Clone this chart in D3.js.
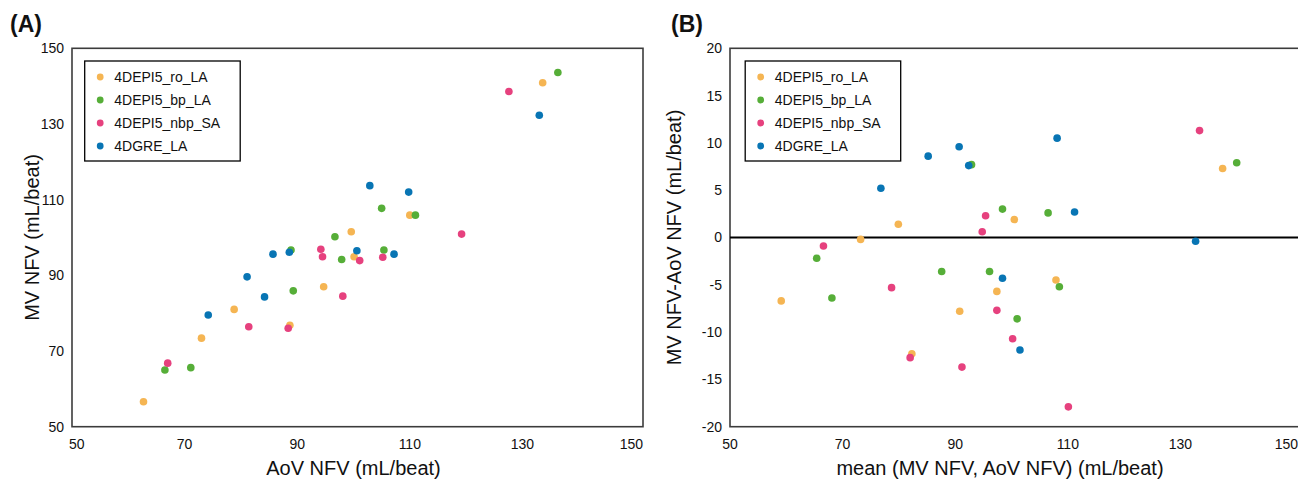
<!DOCTYPE html>
<html>
<head>
<meta charset="utf-8">
<script src="https://cdn.jsdelivr.net/npm/d3@7"></script>
<style>
  html, body { margin: 0; padding: 0; background: #fff; }
  svg { display: block; font-family: "Liberation Sans", Arial, Helvetica, sans-serif; }
</style>
</head>
<body>
<svg id="chart" width="1298" height="481"></svg>
<script>
'use strict';

// series names and colours
var seriesNames = ['4DEPI5_ro_LA', '4DEPI5_bp_LA', '4DEPI5_nbp_SA', '4DGRE_LA'];
var seriesColors = ['#F5B553', '#56AE38', '#E6417E', '#0875B4'];

// (A) AoV NFV vs MV NFV, mL/beat
var roAoV  = [133.6, 110.0, 99.6, 100.1, 94.7, 78.8, 88.7, 73.0, 62.7];
var roMV   = [140.9, 105.9, 101.5, 94.9, 87.0, 81.0, 76.8, 73.4, 56.6];
var bpAoV  = [136.3, 105.0, 111.0, 96.7, 88.9, 105.4, 97.9, 89.3, 71.1, 66.5];
var bpMV   = [143.6, 107.7, 105.9, 100.2, 96.7, 96.7, 94.2, 85.9, 65.6, 65.0];
var nbpAoV = [127.6, 119.2, 94.2, 94.5, 101.1, 105.2, 98.1, 81.4, 88.4, 67.0];
var nbpMV  = [138.6, 100.9, 96.9, 94.9, 93.9, 94.8, 84.5, 76.4, 76.0, 66.8];
var greAoV = [133.0, 102.9, 109.8, 100.6, 107.2, 85.7, 88.6, 81.1, 84.2, 74.2];
var greMV  = [132.3, 113.7, 112.0, 96.5, 95.6, 95.6, 96.1, 89.6, 84.3, 79.5];

// (B) mean vs difference, mL/beat
var roMean  = [59.1, 73.2, 79.9, 82.3, 90.8, 97.4, 100.5, 107.9, 137.5];
var roDiff  = [-6.7, -0.2, 1.4, -12.3, -7.8, -5.7, 1.9, -4.5, 7.3];
var bpMean  = [65.4, 68.1, 87.6, 92.9, 96.1, 98.4, 101.0, 106.5, 108.5, 140.0];
var bpDiff  = [-2.2, -6.4, -3.6, 7.7, -3.6, 3.0, -8.6, 2.6, -5.2, 7.9];
var nbpMean = [66.6, 78.7, 82.0, 91.2, 94.8, 95.4, 97.4, 100.2, 110.1, 133.4];
var nbpDiff = [-0.9, -5.3, -12.7, -13.7, 0.6, 2.3, -7.7, -10.7, -17.9, 11.3];
var greMean = [76.8, 85.2, 90.7, 92.4, 98.4, 101.5, 108.1, 111.2, 132.7];
var greDiff = [5.2, 8.6, 9.6, 7.6, -4.3, -11.9, 10.5, 2.7, -0.4];

// ticks
var xTicks = [50, 70, 90, 110, 130, 150];
var yTicksA = [50, 70, 90, 110, 130, 150];
var yTicksB = [-20, -15, -10, -5, 0, 5, 10, 15, 20];

var W = 1298;
var plotTop = 48.3, plotBottom = 426.7;
var svg = d3.select('#chart');

function zip(xs, ys) {
  return xs.map(function(v, i) { return [v, ys[i]]; });
}

var panels = [
  {
    tag: '(A)', tagX: 10,
    frame: [72, 643], xRange: [72, 635], labelMin: 69,
    yDomain: [50, 150], yTicks: yTicksA,
    xTitle: 'AoV NFV (mL/beat)', xTitleX: 353.5,
    yTitle: 'MV NFV (mL/beat)', yTitleX: 39,
    legendX: 84.7,
    sets: [zip(roAoV, roMV), zip(bpAoV, bpMV), zip(nbpAoV, nbpMV), zip(greAoV, greMV)],
    zeroLine: false
  },
  {
    tag: '(B)', tagX: 671,
    frame: [730, 1301], xRange: [730, 1293], labelMin: 721,
    yDomain: [-20, 20], yTicks: yTicksB,
    xTitle: 'mean (MV NFV, AoV NFV) (mL/beat)', xTitleX: 1000,
    yTitle: 'MV NFV-AoV NFV (mL/beat)', yTitleX: 681,
    legendX: 745.2,
    sets: [zip(roMean, roDiff), zip(bpMean, bpDiff), zip(nbpMean, nbpDiff), zip(greMean, greDiff)],
    zeroLine: true
  }
];

panels.forEach(function(p) {
  var x = d3.scaleLinear().domain([50, 150]).range(p.xRange);
  var y = d3.scaleLinear().domain(p.yDomain).range([plotBottom, plotTop]);
  var g = svg.append('g');

  // panel tag
  g.append('text')
    .attr('x', p.tagX).attr('y', 32)
    .attr('font-size', 23).attr('font-weight', 'bold').attr('fill', '#111')
    .text(p.tag);

  // frame
  g.append('rect')
    .attr('x', p.frame[0]).attr('y', plotTop)
    .attr('width', p.frame[1] - p.frame[0]).attr('height', plotBottom - plotTop)
    .attr('fill', 'none').attr('stroke', '#3c3c3c').attr('stroke-width', 1.6);

  if (p.zeroLine) {
    g.append('line')
      .attr('x1', p.frame[0]).attr('x2', p.frame[1])
      .attr('y1', y(0)).attr('y2', y(0))
      .attr('stroke', '#000').attr('stroke-width', 2);
  }

  // y tick labels
  g.selectAll('.ytl').data(p.yTicks).enter().append('text')
    .attr('class', 'ytl')
    .attr('x', p.frame[0] - 8).attr('y', function(d) { return y(d); })
    .attr('dy', '0.35em').attr('text-anchor', 'end')
    .attr('font-size', 14).attr('fill', '#111')
    .text(function(d) { return d; });

  // x tick labels, kept inside the panel edges
  var maxRight = Math.min(p.frame[1], W);
  g.selectAll('.xtl').data(xTicks).enter().append('text')
    .attr('class', 'xtl')
    .attr('y', 449).attr('text-anchor', 'middle')
    .attr('font-size', 14).attr('fill', '#111')
    .text(function(d) { return d; })
    .attr('x', function(d) {
      var half = this.getComputedTextLength() / 2;
      var cx = x(d);
      cx = Math.max(cx, p.labelMin + half);
      cx = Math.min(cx, maxRight - half);
      return cx;
    });

  // axis titles
  g.append('text')
    .attr('x', p.xTitleX).attr('y', 475)
    .attr('text-anchor', 'middle').attr('font-size', 20).attr('fill', '#111')
    .text(p.xTitle);

  g.append('text')
    .attr('transform', 'translate(' + p.yTitleX + ',' + ((plotTop + plotBottom) / 2) + ') rotate(-90)')
    .attr('text-anchor', 'middle').attr('font-size', 20).attr('fill', '#111')
    .text(p.yTitle);

  // points, drawn series by series
  p.sets.forEach(function(pts, si) {
    g.append('g').selectAll('circle').data(pts).enter().append('circle')
      .attr('cx', function(d) { return x(d[0]); })
      .attr('cy', function(d) { return y(d[1]); })
      .attr('r', 3.8)
      .attr('fill', seriesColors[si]);
  });

  // legend
  var lg = g.append('g').attr('transform', 'translate(' + p.legendX + ',61)');
  lg.append('rect')
    .attr('width', 155.5).attr('height', 100)
    .attr('fill', '#fff').attr('stroke', '#000').attr('stroke-width', 1.3);
  var rows = lg.selectAll('.row').data(seriesNames).enter().append('g')
    .attr('class', 'row')
    .attr('transform', function(d, i) { return 'translate(0,' + (16 + i * 23) + ')'; });
  rows.append('circle')
    .attr('cx', 15.5).attr('r', 3.4)
    .attr('fill', function(d, i) { return seriesColors[i]; });
  rows.append('text')
    .attr('x', 29.6).attr('dy', '0.36em')
    .attr('font-size', 14).attr('fill', '#111')
    .text(function(d) { return d; });
});
</script>
</body>
</html>
